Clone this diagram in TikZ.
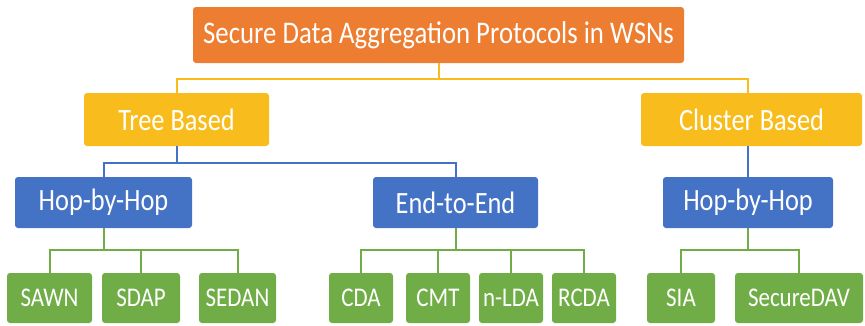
\documentclass[tikz,border=0pt]{standalone}
\usepackage{fontspec}
\setmainfont{Carlito}
\usetikzlibrary{positioning}

\definecolor{rootorange}{HTML}{ED7D31}
\definecolor{basegold}{HTML}{F8BD1C}
\definecolor{kindblue}{HTML}{4472C4}
\definecolor{leafgreen}{HTML}{70AD47}

\newcommand{\narrow}[1]{\scalebox{0.85}[1]{#1}}

\begin{document}
\begin{tikzpicture}[x=1pt, y=-1pt,
    box/.style={rectangle, rounded corners=3pt, text=white, inner sep=0pt, align=center},
    rootbox/.style={box, fill=rootorange, minimum height=56pt, font=\fontsize{31.5}{33}\selectfont},
    basebox/.style={box, fill=basegold, minimum height=53pt, font=\fontsize{31}{33}\selectfont},
    kindbox/.style={box, fill=kindblue, minimum height=51pt, font=\fontsize{31}{33}\selectfont},
    leafbox/.style={box, fill=leafgreen, minimum height=50pt, font=\fontsize{27}{29}\selectfont},
    goldline/.style={draw=basegold, line width=2pt},
    blueline/.style={draw=kindblue, line width=2pt},
    greenline/.style={draw=leafgreen, line width=2pt}]
  \useasboundingbox (0,0) rectangle (865,325);

  % top of the tree
  \node[rootbox, minimum width=491pt] (root) at (438.5,35) {\narrow{Secure Data Aggregation Protocols in WSNs}};

  % tree / cluster
  \node[basebox, minimum width=185pt] (tree) at (176.5,119.5) {\narrow{Tree Based}};
  \node[basebox, minimum width=221pt] (cluster) at (751.5,119.5) {\narrow{Cluster Based}};

  % hop-by-hop / end-to-end
  \node[kindbox, minimum width=177pt] (hopA) at (103.5,202.5) {\narrow{Hop-by-Hop}};
  \node[kindbox, minimum width=165pt] (endB) at (455.5,202.5) {\narrow{End-to-End}};
  \node[kindbox, minimum width=170pt] (hopC) at (748,202.5) {\narrow{Hop-by-Hop}};

  % protocols
  \node[leafbox, minimum width=85pt] (sawn)  at (49.5,298)  {\narrow{SAWN}};
  \node[leafbox, minimum width=78pt] (sdap)  at (141,298)   {\narrow{SDAP}};
  \node[leafbox, minimum width=77pt] (sedan) at (237.5,298) {\narrow{SEDAN}};
  \node[leafbox, minimum width=64pt] (cda)   at (361,298)   {\narrow{CDA}};
  \node[leafbox, minimum width=64pt] (cmt)   at (438,298)   {\narrow{CMT}};
  \node[leafbox, minimum width=64pt] (nlda)  at (511,298)   {\narrow{n-LDA}};
  \node[leafbox, minimum width=64pt] (rcda)  at (584,298)   {\narrow{RCDA}};
  \node[leafbox, minimum width=68pt] (sia)   at (681,298)   {\narrow{SIA}};
  \node[leafbox, minimum width=128pt] (sdav) at (799,298)   {\narrow{SecureDAV}};

  % connectors
  \draw[goldline] (root.south) -- ++(0,16) -| (tree.north);
  \draw[goldline] (root.south) -- ++(0,16) -| (hopC.north |- cluster.north);
  \draw[blueline] (tree.south) -- ++(0,17) -| (hopA.north);
  \draw[blueline] (tree.south) -- ++(0,17) -| (endB.north);
  \draw[blueline] (hopC.north |- cluster.south) -- (hopC.north);
  \foreach \leaf in {sawn,sdap,sedan}
    \draw[greenline] (hopA.south) -- ++(0,22) -| (\leaf.north);
  \foreach \leaf in {cda,cmt,nlda,rcda}
    \draw[greenline] (endB.south) -- ++(0,22) -| (\leaf.north);
  \foreach \leaf in {sia,sdav}
    \draw[greenline] (hopC.south) -- ++(0,22) -| (\leaf.north);
\end{tikzpicture}
\end{document}
